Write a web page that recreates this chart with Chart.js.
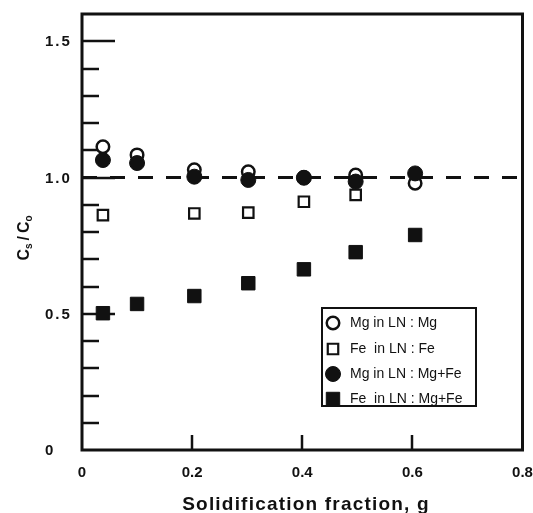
<!DOCTYPE html>
<html>
<head>
<meta charset="utf-8">
<script src="https://cdn.jsdelivr.net/npm/chart.js@4"></script>
<style>
  html, body { margin: 0; padding: 0; background: #fff; }
</style>
</head>
<body>
<canvas id="chart" width="533" height="513"></canvas>
<script>
// values
const gX = [0.038, 0.1, 0.204, 0.302, 0.403, 0.497, 0.605];

const mgInMgY = [1.113, 1.083, 1.028, 1.021, 1.0, 1.009, 0.979];
const mgInMgFeY = [1.064, 1.053, 1.003, 0.991, 0.999, 0.985, 1.015];
const feInMgFeY = [0.502, 0.536, 0.565, 0.612, 0.663, 0.726, 0.789];

const feInFeX = [0.038, 0.204, 0.302, 0.403, 0.497];
const feInFeY = [0.862, 0.868, 0.871, 0.911, 0.936];

const refLineX = [0, 0.8];
const refLineY = 1.0;

const xTickValues = [0, 0.2, 0.4, 0.6, 0.8];
const xTickLabels = ['0', '0.2', '0.4', '0.6', '0.8'];
const yTickValues = [0, 0.5, 1.0, 1.5];
const yTickLabels = ['0', '0.5', '1.0', '1.5'];

const ink = '#111';
const FONT = '"Liberation Sans", Arial, sans-serif';
const pts = (xs, ys) => xs.map((x, i) => ({ x, y: ys[i] }));
const isHalf = v => Math.abs(v * 2 - Math.round(v * 2)) < 1e-6;

const frameTicks = {
    id: 'frameTicks',
    beforeDatasetsDraw(chart) {
        const { ctx, chartArea: a, scales: { x, y } } = chart;
        ctx.save();
        ctx.strokeStyle = ink;
        ctx.lineWidth = 2.5;
        ctx.beginPath();
        // inward ticks on the left axis, every 0.1
        y.ticks.forEach(t => {
            if (t.value <= 0 || t.value >= y.max - 1e-6) return;
            const py = Math.round(y.getPixelForValue(t.value));
            const len = isHalf(t.value) ? 33 : 17;
            ctx.moveTo(a.left, py);
            ctx.lineTo(a.left + len, py);
        });
        // inward ticks on the bottom axis
        x.ticks.forEach(t => {
            if (t.value <= 0 || t.value >= x.max - 1e-6) return;
            const px = Math.round(x.getPixelForValue(t.value));
            ctx.moveTo(px, a.bottom);
            ctx.lineTo(px, a.bottom - 15);
        });
        ctx.stroke();
        ctx.restore();
    },
    afterDraw(chart) {
        const { ctx, chartArea: a, scales: { y } } = chart;
        ctx.save();
        ctx.strokeStyle = ink;
        ctx.lineWidth = 3;
        ctx.strokeRect(a.left, a.top, a.right - a.left, a.bottom - a.top);

        // y tick labels, left aligned and spaced like the original
        ctx.fillStyle = ink;
        ctx.font = 'bold 15px ' + FONT;
        ctx.letterSpacing = '2px';
        ctx.textAlign = 'left';
        ctx.textBaseline = 'middle';
        yTickValues.forEach((v, i) => {
            ctx.fillText(yTickLabels[i], 45, y.getPixelForValue(v) + 1);
        });

        // x axis title
        ctx.font = 'bold 19px ' + FONT;
        ctx.letterSpacing = '1.2px';
        ctx.textAlign = 'center';
        ctx.textBaseline = 'alphabetic';
        ctx.fillText('Solidification fraction, g', 306, 510);
        ctx.letterSpacing = '0px';

        // y axis title: C_s / C_o
        ctx.translate(25, 238);
        ctx.rotate(-Math.PI / 2);
        ctx.textAlign = 'left';
        ctx.textBaseline = 'middle';
        const big = 'bold 16px ' + FONT;
        const small = 'bold 10px ' + FONT;
        const parts = [['C', big, 0, 0], ['s', small, 4, 3], ['/', big, 0, 3], ['C', big, 0, 0], ['o', small, 4, 0]];
        let w = 0;
        parts.forEach(([t, f, dy, gap]) => { ctx.font = f; w += ctx.measureText(t).width + gap; });
        let cx = -w / 2;
        parts.forEach(([t, f, dy, gap]) => {
            ctx.font = f;
            ctx.fillText(t, cx, dy);
            cx += ctx.measureText(t).width + gap;
        });
        ctx.restore();

        // legend box inside the plot
        const box = { left: 322, top: 308, w: 154, h: 98 };
        const rows = [323, 349, 374, 399];
        ctx.save();
        ctx.fillStyle = '#fff';
        ctx.fillRect(box.left, box.top, box.w, box.h);
        ctx.strokeStyle = ink;
        ctx.lineWidth = 2;
        ctx.strokeRect(box.left, box.top, box.w, box.h);
        rows.forEach((yy, di) => {
            const ds = chart.data.datasets[di];
            ctx.fillStyle = ds.backgroundColor;
            ctx.strokeStyle = ds.borderColor;
            ctx.lineWidth = ds.borderWidth;
            Chart.helpers.drawPoint(ctx, {
                pointStyle: ds.pointStyle,
                radius: ds.pointRadius,
                borderWidth: ds.borderWidth,
                rotation: 0
            }, box.left + 11, yy);
            ctx.fillStyle = ink;
            ctx.font = '14px ' + FONT;
            ctx.textAlign = 'left';
            ctx.textBaseline = 'middle';
            ctx.fillText(ds.label, box.left + 28, yy);
        });
        ctx.restore();
    }
};

new Chart(document.getElementById('chart'), {
    type: 'scatter',
    data: {
        datasets: [
            {
                label: 'Mg in LN : Mg',
                data: pts(gX, mgInMgY),
                pointStyle: 'circle',
                pointRadius: 6.25,
                backgroundColor: '#fff',
                borderColor: ink,
                borderWidth: 2.5,
                order: 2
            },
            {
                label: 'Fe  in LN : Fe',
                data: pts(feInFeX, feInFeY),
                pointStyle: 'rect',
                pointRadius: 7.4,
                backgroundColor: '#fff',
                borderColor: ink,
                borderWidth: 2.2,
                order: 2
            },
            {
                label: 'Mg in LN : Mg+Fe',
                data: pts(gX, mgInMgFeY),
                pointStyle: 'circle',
                pointRadius: 7.5,
                backgroundColor: ink,
                borderColor: ink,
                borderWidth: 1,
                order: 1
            },
            {
                label: 'Fe  in LN : Mg+Fe',
                data: pts(gX, feInMgFeY),
                pointStyle: 'rect',
                pointRadius: 9.5,
                backgroundColor: ink,
                borderColor: ink,
                borderWidth: 1,
                order: 1
            },
            {
                type: 'line',
                label: 'ref',
                data: refLineX.map(x => ({ x, y: refLineY })),
                borderColor: ink,
                borderWidth: 3,
                borderDash: [15, 13],
                pointRadius: 0,
                order: 5
            }
        ]
    },
    options: {
        responsive: false,
        animation: false,
        layout: { padding: { top: 14, right: 8, left: 0, bottom: 0 } },
        plugins: {
            legend: { display: false },
            tooltip: { enabled: false }
        },
        scales: {
            x: {
                type: 'linear',
                min: 0,
                max: 0.8,
                grid: { display: false },
                border: { display: false },
                afterBuildTicks: s => { s.ticks = xTickValues.map(value => ({ value })); },
                ticks: {
                    autoSkip: false,
                    maxRotation: 0,
                    padding: 6,
                    color: ink,
                    font: { family: FONT, size: 15, weight: 'bold' },
                    callback: v => xTickLabels[xTickValues.indexOf(v)]
                },
                afterFit: s => { s.height = 63; s.paddingLeft = 0; s.paddingRight = 0; }
            },
            y: {
                min: 0,
                max: 1.6,
                grid: { display: false },
                border: { display: false },
                ticks: { stepSize: 0.1, autoSkip: false, display: false },
                afterFit: s => { s.width = 82; s.paddingTop = 0; s.paddingBottom = 0; }
            }
        }
    },
    plugins: [frameTicks]
});
</script>
</body>
</html>
